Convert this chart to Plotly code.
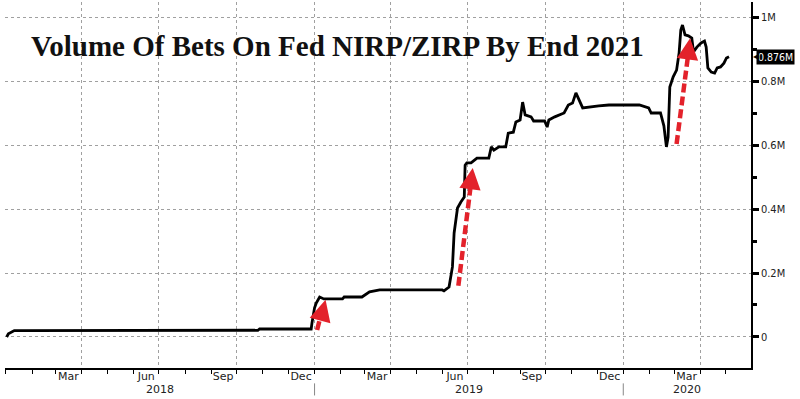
import plotly.graph_objects as go

# ---- data ----
dates = [
    "2018-01-02", "2018-01-04", "2018-01-11", "2018-10-26", "2018-10-28",
    "2018-12-28", "2018-12-29", "2019-01-01", "2019-01-03", "2019-01-07",
    "2019-01-12", "2019-02-03", "2019-02-05", "2019-02-26", "2019-03-07",
    "2019-03-19", "2019-06-01", "2019-06-03", "2019-06-09", "2019-06-13",
    "2019-06-15", "2019-06-19", "2019-06-23", "2019-06-27", "2019-06-28",
    "2019-06-30", "2019-07-05", "2019-07-12", "2019-07-26", "2019-07-29",
    "2019-08-01", "2019-08-07", "2019-08-15", "2019-08-18", "2019-08-24",
    "2019-08-27", "2019-09-01", "2019-09-04", "2019-09-07", "2019-09-14",
    "2019-09-17", "2019-09-30", "2019-10-03", "2019-10-05", "2019-10-12",
    "2019-10-23", "2019-10-28", "2019-11-02", "2019-11-06", "2019-11-11",
    "2019-11-14", "2019-12-03", "2019-12-15", "2020-01-20", "2020-01-31",
    "2020-02-03", "2020-02-14", "2020-02-18", "2020-02-21", "2020-02-23",
    "2020-02-25", "2020-02-29", "2020-03-04", "2020-03-07", "2020-03-09",
    "2020-03-11", "2020-03-14", "2020-03-18", "2020-03-22", "2020-03-24",
    "2020-03-28", "2020-04-02", "2020-04-06", "2020-04-08", "2020-04-10",
    "2020-04-14", "2020-04-18", "2020-04-21", "2020-04-25", "2020-04-29",
    "2020-05-02", "2020-05-05",
]
volume_m = [
    0.000, 0.010, 0.020, 0.021, 0.025,
    0.025, 0.045, 0.091, 0.106, 0.125,
    0.119, 0.119, 0.125, 0.125, 0.141,
    0.147, 0.147, 0.144, 0.156, 0.219,
    0.325, 0.403, 0.422, 0.437, 0.537,
    0.544, 0.544, 0.559, 0.559, 0.594,
    0.584, 0.594, 0.594, 0.637, 0.640,
    0.672, 0.678, 0.734, 0.694, 0.688,
    0.675, 0.675, 0.656, 0.678, 0.688,
    0.700, 0.725, 0.731, 0.763, 0.731,
    0.716, 0.722, 0.725, 0.725, 0.716,
    0.700, 0.700, 0.660, 0.594, 0.625,
    0.781, 0.813, 0.834, 0.888, 0.959,
    0.975, 0.944, 0.941, 0.934, 0.891,
    0.906, 0.919, 0.925, 0.906, 0.841,
    0.828, 0.825, 0.841, 0.844, 0.856,
    0.872, 0.876,
]

y_tickvals = [0, 0.2, 0.4, 0.6, 0.8, 1.0]
y_ticktext = ["0", "0.2M", "0.4M", "0.6M", "0.8M", "1M"]
y_minor = [0.1, 0.3, 0.5, 0.7, 0.9]

grid_dates = ["2018-04-01", "2018-07-01", "2018-10-01", "2019-01-01", "2019-04-01",
              "2019-07-01", "2019-10-01", "2020-01-01", "2020-04-01"]
month_label_dates = ["2018-03-16", "2018-06-16", "2018-09-15", "2018-12-16", "2019-03-16",
                     "2019-06-16", "2019-09-15", "2019-12-16", "2020-03-16"]
month_labels = ["Mar", "Jun", "Sep", "Dec", "Mar", "Jun", "Sep", "Dec", "Mar"]
year_label_dates = ["2018-07-02", "2019-07-02", "2020-03-16"]
year_labels = ["2018", "2019", "2020"]
year_breaks = ["2019-01-01", "2020-01-01"]

# red arrows: (tail date, tail value, shaft-end date, shaft-end value, tip date, tip value, head dx, head dy)
arrows = [
    ("2019-01-04", 0.022, "2019-01-11", 0.094, "2019-01-14", 0.116, -3.6, 13.5),
    ("2019-06-20", 0.160, "2019-07-06", 0.503, "2019-07-07", 0.528, -1.8, 13.9),
    ("2020-03-04", 0.603, "2020-03-19", 0.909, "2020-03-20", 0.934, -1.7, 13.9),
]

title = "Volume Of Bets On Fed NIRP/ZIRP By End 2021"
last_label = "0.876M"

x_range = ["2017-12-31", "2020-05-31"]
y_range = [-0.0969, 1.0469]

fig = go.Figure()
fig.add_trace(go.Scatter(x=dates, y=volume_m, mode="lines",
                         line=dict(color="black", width=2.8),
                         hoverinfo="skip", showlegend=False))
# helper (invisible) so that the label axis is rendered
fig.add_trace(go.Scatter(x=dates, y=volume_m, mode="lines", xaxis="x2",
                         line=dict(color="rgba(0,0,0,0)", width=0),
                         hoverinfo="skip", showlegend=False))

tick_font = dict(family="DejaVu Sans", size=11, color="#222222")

fig.update_layout(
    width=800, height=399,
    margin=dict(l=5, r=49, t=2, b=31),
    paper_bgcolor="white", plot_bgcolor="white",
    xaxis=dict(
        type="date", range=x_range, automargin=False,
        tickmode="array", tickvals=grid_dates, showticklabels=False,
        ticks="outside", ticklen=4, tickcolor="black", tickwidth=1,
        showgrid=True, gridcolor="#a0a0a0", griddash="dot", gridwidth=1,
        showline=True, linecolor="black", linewidth=1.5,
        minor=dict(dtick="M1", tick0="2018-01-01", ticks="outside", ticklen=4,
                   tickcolor="black", showgrid=False),
        zeroline=False,
    ),
    xaxis2=dict(
        type="date", range=x_range, overlaying="x", anchor="y", side="bottom",
        automargin=False,
        tickmode="array", tickvals=month_label_dates, ticktext=month_labels,
        ticks="", showgrid=False, showline=False, zeroline=False,
        tickfont=tick_font,
    ),
    yaxis=dict(
        range=y_range, side="right", automargin=False,
        tickmode="array", tickvals=y_tickvals, ticktext=y_ticktext,
        ticks="outside", ticklen=6, tickwidth=3, tickcolor="black",
        showgrid=True, gridcolor="#a0a0a0", griddash="dot", gridwidth=1,
        showline=True, linecolor="black", linewidth=1.5,
        minor=dict(tickvals=y_minor, ticks="outside", ticklen=4, tickcolor="black",
                   showgrid=False),
        zeroline=False,
        tickfont=dict(family="DejaVu Sans Condensed, DejaVu Sans", size=11, color="#222222"),
    ),
)

# year labels and separators below the month labels
for d, t in zip(year_label_dates, year_labels):
    fig.add_annotation(x=d, xref="x", y=-0.058, yref="paper", text=t, showarrow=False,
                       yanchor="middle", font=tick_font)
for d in year_breaks:
    fig.add_shape(type="line", xref="x", yref="paper", x0=d, x1=d, y0=-0.042, y1=-0.075,
                  line=dict(color="#888888", width=1))

# red dashed arrows
red = "#e3222b"
for (tx, ty, sx, sy, hx, hy, dx, dy) in arrows:
    fig.add_shape(type="line", xref="x", yref="y", x0=tx, y0=ty, x1=sx, y1=sy,
                  line=dict(color=red, width=4.5, dash="9px,4px"))
    fig.add_annotation(x=hx, y=hy, xref="x", yref="y", text="", showarrow=True,
                       ax=dx, ay=dy, arrowhead=2, arrowsize=0.95, arrowwidth=4.5,
                       arrowcolor=red)

# title
fig.add_annotation(x=0.4457, y=0.88, xref="paper", yref="paper", text="<b>" + title + "</b>",
                   showarrow=False, xanchor="center", yanchor="middle",
                   font=dict(family="Liberation Serif", size=29, color="#111111"))

# last value tag
fig.add_annotation(x=1.0, y=volume_m[-1], xref="paper", yref="y", text=last_label,
                   showarrow=False, xanchor="left", yanchor="middle", xshift=5,
                   bgcolor="black", borderpad=1,
                   font=dict(family="DejaVu Sans Condensed, DejaVu Sans", size=10.5, color="white"))
fig.add_annotation(x=1.0, y=volume_m[-1], xref="paper", yref="y", text="◀",
                   showarrow=False, xanchor="left", yanchor="middle", xshift=0,
                   font=dict(family="DejaVu Sans", size=8, color="black"))

fig.write_html("out.html", config={"displayModeBar": False},
               post_script="document.body.style.margin='0';document.body.style.overflow='hidden';")
